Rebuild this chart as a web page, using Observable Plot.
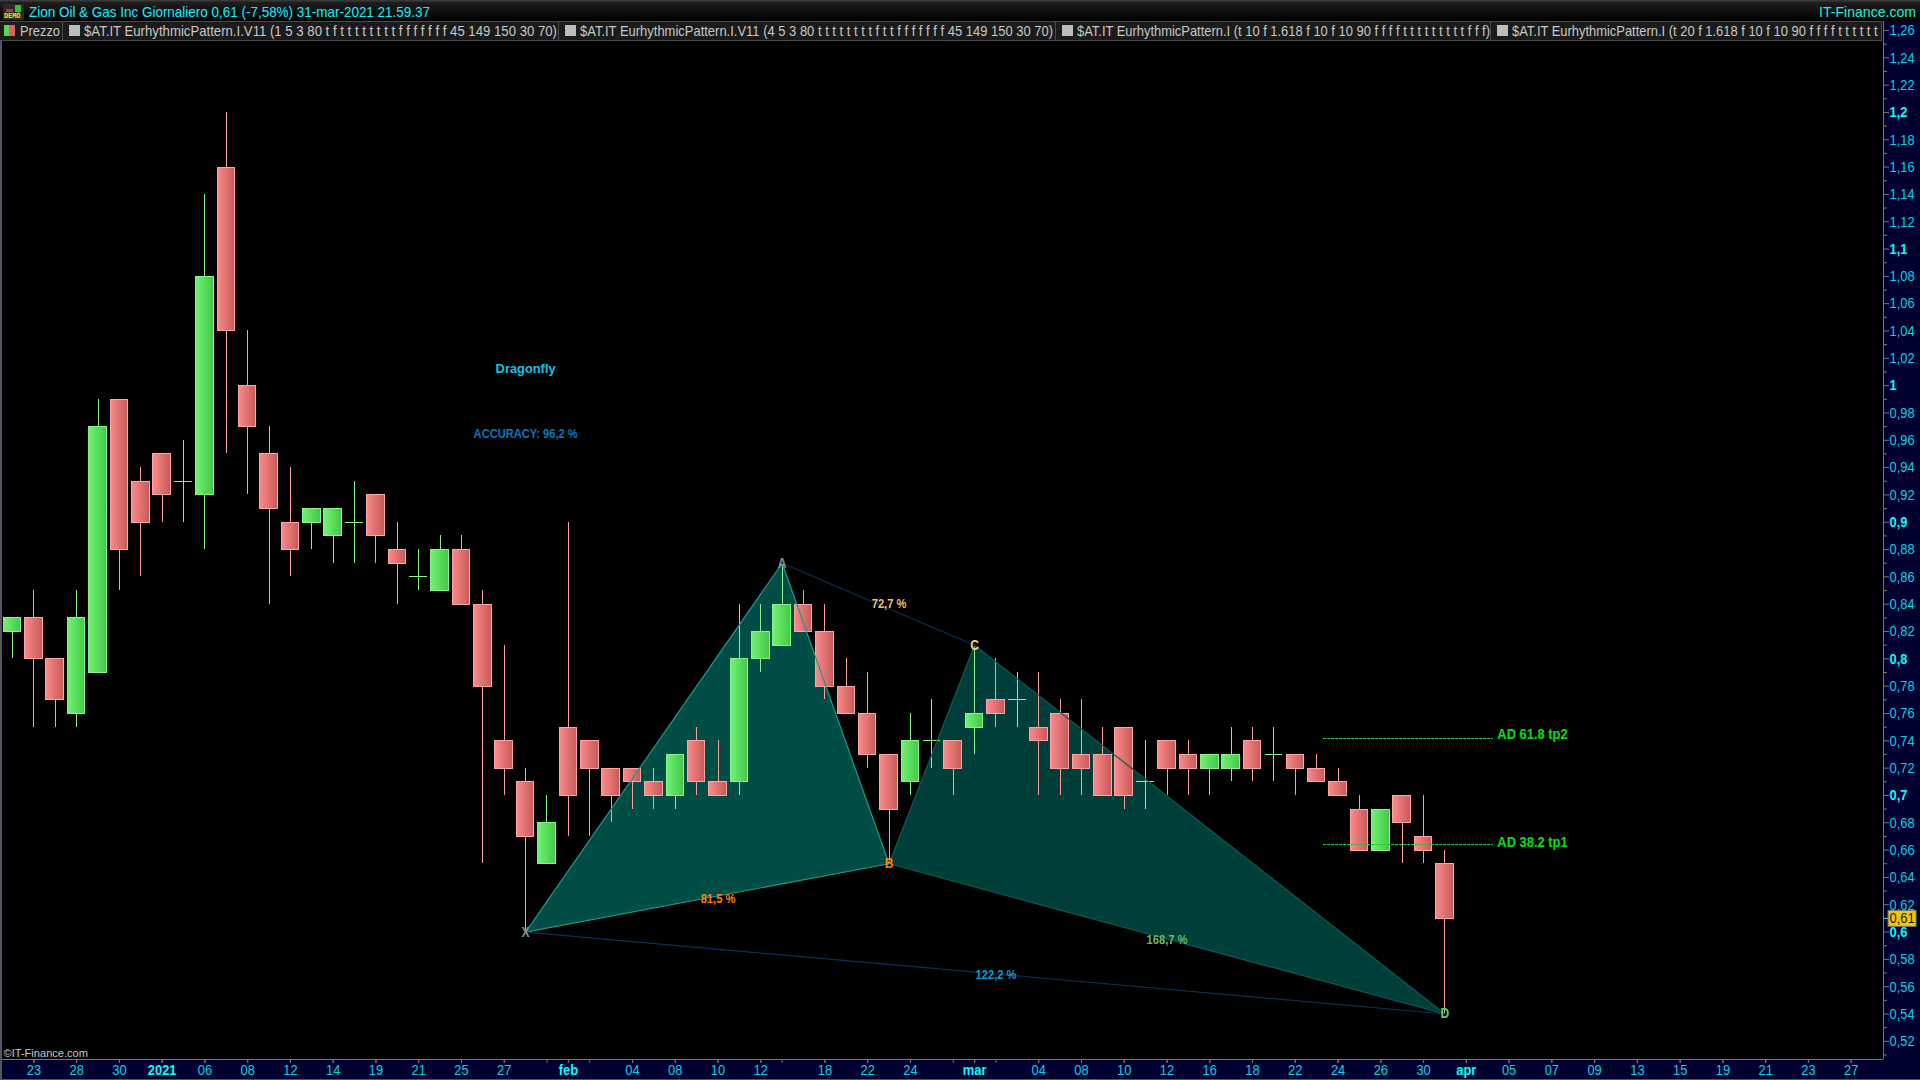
<!DOCTYPE html>
<html><head><meta charset="utf-8">
<script src="https://cdn.jsdelivr.net/npm/d3@7"></script>
<script src="https://cdn.jsdelivr.net/npm/@observablehq/plot@0.6"></script>
<style>
html,body{margin:0;padding:0;background:#000;width:1920px;height:1080px;overflow:hidden}
#wrap{position:relative;width:1920px;height:1080px;font-family:"Liberation Sans",sans-serif}
#titlebar{height:21px;box-sizing:border-box;background:linear-gradient(#404040 0,#1e1e1e 12%,#000 100%);position:relative;z-index:2;color:#10f0ff;font-size:14.5px;line-height:24px;white-space:pre}
#titlebar .t{position:absolute;left:28.5px;top:0;transform-origin:left}
#titlebar .r{position:absolute;left:1819px;top:0;color:#1df0d8;transform-origin:left}
#icon{position:absolute;left:3px;top:4px;width:21px;height:16px;background:#2a2a2a}
#icon b{position:absolute;left:1px;top:8px;font:bold 7px "DejaVu Sans Mono",monospace;color:#ffe000;letter-spacing:-.1px;line-height:8px}
#icon i{position:absolute}
#toolbar{position:absolute;z-index:2;left:0;top:21px;width:1882px;height:20px;background:#1b1b1b;border-top:1px solid #4a4a4a;border-bottom:1px solid #4a4a4a;box-sizing:border-box;overflow:hidden;color:#c8c8c8;font-size:14.5px;line-height:18px;white-space:pre}
#toolbar .it{position:absolute;top:0;height:18px;border-right:1px solid #4a4a4a;box-sizing:border-box;overflow:hidden}
#toolbar .sw{position:absolute;top:3px;width:11px;height:11px;background:#bdbdbd}
#toolbar .tx{position:absolute;top:0;transform-origin:left}
#edge{position:absolute;left:0;top:40px;width:1.5px;height:1040px;background:#555;z-index:3}
#foot{position:absolute;left:0;top:1079px;width:1920px;height:1px;background:#555;z-index:3}
svg{position:absolute;left:0;top:20px}
</style></head><body>
<div id="wrap">
<div id="titlebar"><div id="icon"><i style="left:3px;top:5px;width:7px;height:3px;background:#c03030"></i><i style="left:12px;top:1px;width:6px;height:7px;background:#30c030"></i><b>DEMO</b></div><span class="t" id="ttl"></span><span class="r" id="brand"></span></div>
<div id="chart"></div>
<div id="toolbar"></div>
<div id="edge"></div><div id="foot"></div>
</div>
<script>
// Values
const titleText = "Zion Oil & Gas Inc Giornaliero 0,61 (-7,58%) 31-mar-2021 21.59.37";
const brandText = "IT-Finance.com";
const legendItems = [
 "Prezzo",
 "$AT.IT EurhythmicPattern.I.V11 (1 5 3 80 t f t t t t t t t t f f f f f f f 45 149 150 30 70)",
 "$AT.IT EurhythmicPattern.I.V11 (4 5 3 80 t t t t t t t t f t t f f f f f f f 45 149 150 30 70)",
 "$AT.IT EurhythmicPattern.I (t 10 f 1.618 f 10 f 10 90 f f f f t t t t t t t t t f f f)",
 "$AT.IT EurhythmicPattern.I (t 20 f 1.618 f 10 f 10 90 f f f f t t t t t t"
];
const opens  = [.82,.83,.80,.76,.79,.99,.93,.95,.93,.92,1.16,1.00,.95,.90,.90,.89,.90,.92,.88,.86,.85,.88,.84,.74,.71,.65,.75,.74,.72,.72,.71,.70,.74,.71,.71,.80,.81,.84,.82,.78,.76,.73,.71,.74,.74,.75,.77,.77,.75,.76,.73,.73,.75,.71,.74,.73,.72,.72,.74,.73,.73,.72,.71,.69,.66,.70,.67,.65];
const highs  = [.83,.85,.80,.85,.99,.99,.94,.95,.96,1.14,1.20,1.04,.97,.94,.91,.91,.93,.92,.90,.88,.89,.89,.85,.81,.72,.70,.90,.74,.72,.72,.72,.73,.75,.74,.84,.84,.87,.85,.84,.80,.79,.73,.76,.77,.74,.81,.80,.79,.79,.77,.77,.75,.75,.74,.74,.74,.73,.75,.75,.75,.73,.73,.72,.70,.69,.70,.70,.66];
const lows   = [.80,.75,.75,.75,.79,.85,.86,.90,.90,.88,.95,.92,.84,.86,.88,.87,.87,.87,.84,.85,.85,.84,.65,.70,.60,.65,.67,.67,.68,.69,.69,.69,.70,.70,.70,.79,.81,.82,.77,.76,.72,.65,.70,.72,.70,.73,.75,.75,.70,.70,.70,.70,.69,.69,.70,.70,.70,.71,.71,.71,.70,.71,.70,.66,.66,.65,.65,.54];
const closes = [.83,.80,.77,.83,.97,.88,.90,.92,.93,1.08,1.04,.97,.91,.88,.91,.91,.90,.89,.87,.86,.88,.84,.78,.72,.67,.68,.70,.72,.70,.71,.70,.73,.71,.70,.80,.82,.84,.82,.78,.76,.73,.69,.74,.74,.72,.76,.76,.77,.74,.72,.72,.70,.70,.71,.72,.72,.73,.73,.72,.73,.72,.71,.70,.66,.69,.68,.66,.61];

const tickIdx   = [1,3,5,7,9,11,13,15,17,19,21,23,25,26,27,29,31,33,35,36,38,40,42,44,45,46,48,50,52,54,56,58,60,62,64,66,68,70,72,74,76,78,80,82,84,86];
const dayIdx    = [1,3,5,9,11,13,15,17,19,21,23,29,31,33,35,38,40,42,48,50,52,54,56,58,60,62,64,66,70,72,74,76,78,80,82,84,86];
const dayLabels = ["23","28","30","06","08","12","14","19","21","25","27","04","08","10","12","18","22","24","04","08","10","12","16","18","22","24","26","30","05","07","09","13","15","19","21","23","27"];
const periodIdx    = [7,26,45,68];
const periodLabels = ["2021","feb","mar","apr"];

const priceMajor = [.52,.54,.56,.58,.62,.64,.66,.68,.72,.74,.76,.78,.82,.84,.86,.88,.92,.94,.96,.98,1.02,1.04,1.06,1.08,1.12,1.14,1.16,1.18,1.22,1.24,1.26];
const priceBold  = [.6,.7,.8,.9,1,1.1,1.2];
const priceMinor = [.51,.53,.55,.57,.59,.63,.65,.67,.69,.71,.73,.75,.77,.79,.81,.83,.85,.87,.89,.91,.93,.95,.97,.99,1.01,1.03,1.05,1.07,1.09,1.11,1.13,1.15,1.17,1.19,1.21,1.23,1.25];
const lastPrice = .61, lastIdx = 88.38;

const patX = [24,36,41,45,67];
const patY = [.60,.87,.65,.81,.54];
const pointNames  = ["X","A","B","C","D"];
const pointColors = ["#8c8c8c","#8c8c8c","#ff8000","#ffd070","#66cc66"];
const ratioText   = ["72,7 %","81,5 %","122,2 %","168,7 %"];
const ratioX      = [41,33,46,54];
const ratioY      = [.84,.624,.569,.594];
const ratioColors = ["#e8c070","#ff8000","#0a9ccc","#66bb66"];
const noteText   = ["Dragonfly","ACCURACY: 96,2 %"];
const noteX      = [24,24];
const noteY      = [1.012,.965];
const noteColors = ["#10c4e8","#0a78b8"];
const targetText = ["AD 61.8 tp2","AD 38.2 tp1"];
const targetLine = [.742,.664];
const targetFrom = 61.3, targetTo = 69.27, targetLabelX = 69.45;
const targetLabelY = [.7445,.666];
const credit = "©IT-Finance.com";

// Layout
const xDom = [-.4677, 87.512], yDom = [.5067, 1.2673];
const bars = opens.map((o,i)=>({i,o,h:highs[i],l:lows[i],c:closes[i],up:closes[i]>=o,doji:closes[i]===o}));
const fmt = v => String(v).replace(".",",");
const pt = k => ({x:patX[k],y:patY[k]});
const CY="#00d4e6", CB="#00ffff", AXIS="#777";
const hw=.41;
const defs = () => { const g=document.createElementNS("http://www.w3.org/2000/svg","g");
 g.innerHTML='<defs><linearGradient id="gup"><stop offset="0" stop-color="#72f272"/><stop offset="1" stop-color="#42c84a"/></linearGradient><linearGradient id="gdn"><stop offset="0" stop-color="#fb8a8a"/><stop offset="1" stop-color="#c85a5a"/></linearGradient></defs>';
 return g; };
const body = (flag,fill,stroke)=>Plot.rect(bars.filter(b=>!b.doji&&b.up===flag),{x1:d=>d.i-hw,x2:d=>d.i+hw,y1:"o",y2:"c",dy:.5,fill,stroke,strokeWidth:1,shapeRendering:"crispEdges"});
const wick = (flag,stroke)=>Plot.ruleX(bars.filter(b=>b.up===flag),{x:"i",y1:"h",y2:"l",stroke,strokeWidth:1,shapeRendering:"crispEdges"});

const svg = Plot.plot({
 width:1920,height:1060,marginTop:0,marginBottom:21,marginLeft:2,marginRight:37,
 style:{background:"#000030",fontFamily:'"Liberation Sans",sans-serif'},
 x:{type:"linear",domain:xDom,axis:null},
 y:{type:"linear",domain:yDom,axis:null},
 marks:[
  defs,
  Plot.frame({fill:"#000",stroke:"none"}),
  // filled triangles
  Plot.line([pt(0),pt(1),pt(2)],{x:"x",y:"y",fill:"#004d45",stroke:"none"}),
  Plot.line([pt(2),pt(3),pt(4)],{x:"x",y:"y",fill:"#003e39",stroke:"none"}),
  // candles
  wick(true,"#86f586"),wick(false,"#ff9c9c"),
  body(true,"url(#gup)","#86f586"),body(false,"url(#gdn)","#ffa4a4"),
  Plot.ruleY(bars.filter(b=>b.doji),{y:"o",x1:d=>d.i-hw,x2:d=>d.i+hw,stroke:"#86f586",shapeRendering:"crispEdges"}),
  // pattern outlines
  Plot.line([pt(0),pt(1),pt(2),pt(0)],{x:"x",y:"y",stroke:"#1a9c8e",strokeWidth:1.2}),
  Plot.line([pt(2),pt(3),pt(4),pt(2)],{x:"x",y:"y",stroke:"#0c5c55",strokeWidth:1.2}),
  Plot.line([pt(0),pt(4)],{x:"x",y:"y",stroke:"#0c2f52",strokeWidth:1.2}),
  Plot.line([pt(1),pt(3)],{x:"x",y:"y",stroke:"#0c2f52",strokeWidth:1.2}),
  // pattern labels
  Plot.text(pointNames,{x:(d,i)=>patX[i],y:(d,i)=>patY[i],text:d=>d,fill:(d,i)=>pointColors[i],fontSize:14,fontWeight:"bold"}),
  Plot.text(ratioText,{x:(d,i)=>ratioX[i],y:(d,i)=>ratioY[i],text:d=>d,fill:(d,i)=>ratioColors[i],fontSize:13,fontWeight:"bold"}),
  Plot.text(noteText,{x:(d,i)=>noteX[i],y:(d,i)=>noteY[i],text:d=>d,fill:(d,i)=>noteColors[i],fontSize:13,fontWeight:"bold"}),
  // targets
  Plot.ruleY(targetLine,{y:d=>d,x1:targetFrom,x2:targetTo,stroke:"#00e010",strokeDasharray:"3,1",shapeRendering:"crispEdges"}),
  Plot.text(targetText,{x:targetLabelX,y:(d,i)=>targetLabelY[i],text:d=>d,fill:"#00e010",textAnchor:"start",fontSize:15,fontWeight:"bold"}),
  // credit
  Plot.text([credit],{frameAnchor:"bottom-left",dx:1,dy:-3,text:d=>d,fill:"#c8c8c8",fontSize:11}),
  // right axis
  Plot.ruleX([xDom[1]],{stroke:AXIS}),
  Plot.ruleY([yDom[0]],{stroke:AXIS}),
  Plot.axisY(priceMajor,{anchor:"right",tickFormat:fmt,tickSize:5,tickPadding:1,stroke:AXIS,fill:CY,fontSize:15,label:null}),
  Plot.axisY(priceBold,{anchor:"right",tickFormat:fmt,tickSize:5,tickPadding:1,stroke:AXIS,fill:CB,fontSize:15,fontWeight:"bold",label:null}),
  Plot.axisY(priceMinor,{anchor:"right",tickFormat:()=>"",tickSize:3,stroke:AXIS,label:null}),
  // last price
  Plot.axisY([lastPrice],{anchor:"right",tickFormat:()=>"",tickSize:4,stroke:CB,label:null}),
  Plot.text([fmt(lastPrice)],{x:lastIdx,y:lastPrice,text:d=>d,fill:"#222",fontSize:15,
    render(index,scales,values,dims,ctx,next){
      const g=next(index,scales,values,dims,ctx);
      const r=document.createElementNS("http://www.w3.org/2000/svg","rect");
      const X=scales.x(lastIdx),Y=scales.y(lastPrice);
      r.setAttribute("x",X-14);r.setAttribute("y",Y-8);r.setAttribute("width",28);r.setAttribute("height",16);
      r.setAttribute("fill","#f2c40c");r.setAttribute("stroke","#777");
      g.insertBefore(r,g.firstChild);return g;}}),
  // bottom axis
  Plot.axisX(tickIdx,{anchor:"bottom",tickFormat:()=>"",tickSize:4,stroke:AXIS,label:null}),
  Plot.axisX(dayIdx,{anchor:"bottom",tickFormat:d=>dayLabels[dayIdx.indexOf(d)],tickSize:4,tickPadding:1,stroke:AXIS,fill:CY,fontSize:15,label:null}),
  Plot.axisX(periodIdx,{anchor:"bottom",tickFormat:d=>periodLabels[periodIdx.indexOf(d)],tickSize:4,tickPadding:1,stroke:AXIS,fill:CB,fontSize:15,fontWeight:"bold",label:null})
 ]
});
document.getElementById("chart").appendChild(svg);

// Condense text so it matches the narrow lettering of the reference
const widths = {"Dragonfly":60,"ACCURACY: 96,2 %":104,"©IT-Finance.com":84.5};
svg.querySelectorAll("text").forEach(t=>{
  const s=t.textContent; if(!s) return;
  const w=t.getComputedTextLength();
  t.setAttribute("textLength",widths[s]||w*.86);
  t.setAttribute("lengthAdjust","spacingAndGlyphs");
});
const fit=(el,target)=>{const w=el.getBoundingClientRect().width;const k=target/w;el.style.transform="scaleX("+k+")";return k;};
const ttl=document.getElementById("ttl"),brand=document.getElementById("brand");
ttl.textContent=titleText;brand.textContent=brandText;fit(ttl,401);fit(brand,97);
const starts=[0,63,559,1056,1491],textW=[40,473,473,413],tb=document.getElementById("toolbar");
let lastK=1;
legendItems.forEach((t,i)=>{const d=document.createElement("div");d.className="it";d.style.left=starts[i]+"px";d.style.width=((starts[i+1]||1882)-starts[i])+"px";
 const s=document.createElement("div");s.className="sw";s.style.left=(i?6:4)+"px";if(!i)s.style.background="linear-gradient(90deg,#55d855 50%,#e06060 50%)";
 const x=document.createElement("div");x.className="tx";x.style.left=(i?20.5:20)+"px";x.textContent=t;d.append(s,x);tb.append(d);
 if(textW[i])lastK=fit(x,textW[i]);else x.style.transform="scaleX("+lastK+")";});
</script>
</body></html>
